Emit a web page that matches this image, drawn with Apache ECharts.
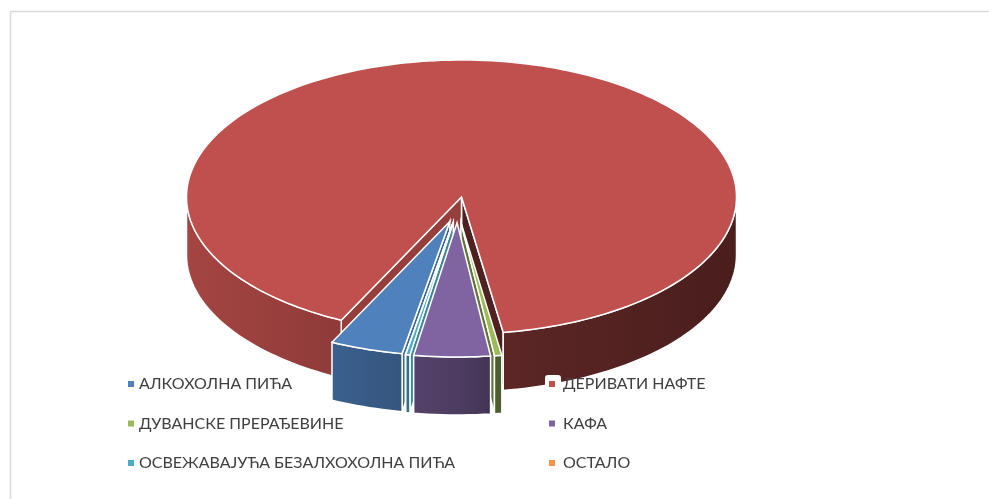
<!DOCTYPE html>
<html>
<head>
<meta charset="utf-8">
<title>chart</title>
<script src="https://cdn.jsdelivr.net/npm/echarts@6/dist/echarts.min.js"></script>
<style>
  html, body { margin: 0; padding: 0; background: #fff; }
  #chart { width: 989px; height: 499px; }
</style>
</head>
<body>
<div id="chart"></div>
<script>
const categories = ['АЛКОХОЛНА ПИЋА', 'ДЕРИВАТИ НАФТЕ', 'ДУВАНСКЕ ПРЕРАЂЕВИНЕ', 'КАФА', 'ОСВЕЖАВАЈУЋА БЕЗАЛХОХОЛНА ПИЋА', 'ОСТАЛО'];
const values = [4.37, 90.39, 0.44, 4.56, 0.25, 0.01];
const colors = ['#4f81bd', '#c0504d', '#9bbb59', '#8064a2', '#4bacc6', '#f79646'];
const exploded = [1, 0, 1, 1, 1, 1];
// back to front, each slice's cut face has to end up under its neighbour
const paintOrder = [1, 0, 5, 4, 2, 3];

// pie geometry, the tilted disc is just an ellipse plus a vertical wall
const cx = 461.5, cy = 197, rx = 275, ry = 137, depth = 58;
const explodeX = 0.09, explodeY = 0.188, explodeNudge = -4, explodedScale = 0.98;
const firstAngle = 190.2;
// how dark the outer wall gets from left to right edge of the disc
const wallShade = [[0, 0.86], [0.28, 0.74], [0.5, 0.6], [0.58, 0.48], [1, 0.38]];

const total = values.reduce((a, b) => a + b, 0);
let acc = firstAngle;
const angles = values.map(v => {
  const start = acc;
  acc += v / total * 360;
  return [start, acc];
});

function shade(hex, f) {
  const n = parseInt(hex.slice(1), 16);
  const c = [n >> 16, (n >> 8) & 255, n & 255].map(x => Math.round(x * f));
  return `rgb(${c.join(',')})`;
}

function onDisc(c, deg, k) {
  const a = deg * Math.PI / 180;
  return [c[0] + rx * k * Math.sin(a), c[1] - ry * k * Math.cos(a)];
}

function arc(c, from, to, k) {
  const pts = [];
  const n = Math.max(2, Math.ceil((to - from) / 1.5));
  for (let i = 0; i <= n; i++) pts.push(onDisc(c, from + (to - from) * i / n, k));
  return pts;
}

const down = p => [p[0], p[1] + depth];

function renderSlice(params, api) {
  const i = params.seriesIndex;
  const sweep = api.value(0) / total * 360;
  const from = angles[i][0];
  const to = from + sweep;
  const mid = (from + to) / 2 * Math.PI / 180;
  const c = exploded[i]
    ? [cx + explodeNudge + rx * explodeX * Math.sin(mid), cy - ry * explodeY * Math.cos(mid)]
    : [cx, cy];
  const k = exploded[i] ? explodedScale : 1;
  const line = { stroke: '#fff', lineWidth: 1.5, lineJoin: 'miter' };
  const children = [];
  const poly = (points, fill) => children.push({
    type: 'polygon',
    shape: { points },
    style: Object.assign({ fill }, line)
  });

  // cut faces, only the ones turned towards the viewer
  const p0 = onDisc(c, from, k), p1 = onDisc(c, to, k);
  if (Math.sin(to * Math.PI / 180) > 0) poly([c, p1, down(p1), down(c)], shade(colors[i], i === 1 ? 0.41 : 0.62));
  if (Math.sin(from * Math.PI / 180) < 0) poly([c, p0, down(p0), down(c)], shade(colors[i], 0.78));

  // outer wall, only the front half of the circle shows
  const fill = {
    type: 'linear', global: true,
    x: cx - rx, y: 0, x2: cx + rx, y2: 0,
    colorStops: wallShade.map(s => ({ offset: s[0], color: shade(colors[i], s[1]) }))
  };
  [[90, 270], [450, 630]].forEach(range => {
    const a = Math.max(from, range[0]), b = Math.min(to, range[1]);
    if (b <= a) return;
    const top = arc(c, a, b, k);
    poly(top.concat(top.map(down).reverse()), fill);
  });

  poly([c].concat(arc(c, from, to, k)), colors[i]);
  return { type: 'group', children };
}

const legendFont = { fontFamily: 'Lato, "Noto Sans", sans-serif', fontSize: 16, color: '#404040', lineHeight: 20 };

const option = {
  animation: false,
  backgroundColor: '#fff',
  graphic: [
    { type: 'line', z: 15, shape: { x1: 10.5, y1: 499, x2: 10.5, y2: 11.5 }, style: { stroke: '#d9d9d9', lineWidth: 1.5 } },
    { type: 'line', z: 15, shape: { x1: 10.5, y1: 11.5, x2: 989, y2: 11.5 }, style: { stroke: '#d9d9d9', lineWidth: 1.5 } },
    // the white box behind the second legend marker
    { type: 'rect', z: 15, shape: { x: 545, y: 375, width: 16, height: 18, r: 3 }, style: { fill: '#fff' } }
  ],
  legend: [
    {
      left: 128, top: 374, orient: 'vertical', padding: 0, z: 20, itemWidth: 6, itemHeight: 6, itemGap: 19.5,
      selectedMode: false, icon: 'rect', textStyle: legendFont,
      data: [categories[0], categories[2], categories[4]]
    },
    {
      left: 549, top: 374, orient: 'vertical', padding: 0, z: 20, itemWidth: 6, itemHeight: 6, itemGap: 19.5,
      selectedMode: false, icon: 'rect', textStyle: Object.assign({ padding: [0, 0, 0, 3] }, legendFont),
      data: [categories[1], categories[3], categories[5]]
    }
  ],
  series: categories.map((name, i) => ({
    type: 'custom',
    name,
    coordinateSystem: 'none',
    silent: true,
    z: paintOrder.indexOf(i) + 1,
    itemStyle: { color: colors[i] },
    renderItem: renderSlice,
    data: [values[i]]
  }))
};

const chart = echarts.init(document.getElementById('chart'));
chart.setOption(option);
</script>
</body>
</html>
